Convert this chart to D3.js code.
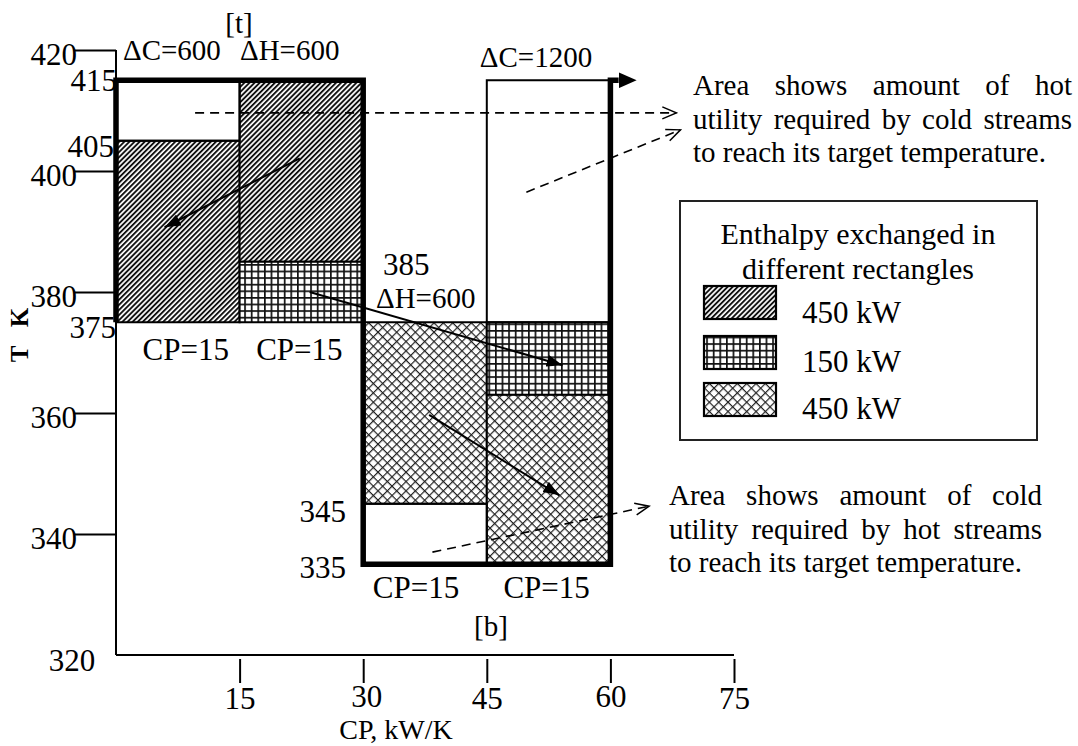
<!DOCTYPE html>
<html>
<head>
<meta charset="utf-8">
<script src="https://cdn.jsdelivr.net/npm/d3@7"></script>
<style>
  html, body { margin: 0; padding: 0; background: #fff; }
  svg { display: block; }
  text { font-family: "Liberation Serif", "Times New Roman", serif; fill: #000; }
</style>
</head>
<body>
<script>
// ---------------- data ----------------
const xTickValues = [15, 30, 45, 60, 75];
const yTickValues = [420, 400, 380, 360, 340];
const yBaseLabel = 320;
const columns = [[0, 15], [15, 30], [30, 45], [45, 60]];
const columnLabels = ["CP=15", "CP=15", "CP=15", "CP=15"];
// hatched blocks (enthalpy exchanged)
const blockCol = [0, 1, 1, 2, 3, 3];
const blockTop = [405, 415, 385, 375, 375, 363];
const blockBottom = [375, 385, 375, 345, 363, 335];
const blockPattern = ["diag", "diag", "grid", "cross", "grid", "cross"];
// empty (utility) blocks
const emptyCol = [0, 3, 2];
const emptyTop = [415, 415, 345];
const emptyBottom = [405, 375, 335];
// legend
const legendTitle = ["Enthalpy exchanged in", "different rectangles"];
const legendLabels = ["450 kW", "150 kW", "450 kW"];
const legendPatterns = ["diag", "grid", "cross"];
// temperature labels on the diagram
const tempLabels = ["415", "405", "375", "385", "345", "335"];
// arrows [cp0, T0, cp1, T1]
const solidArrows = [[22.3, 402.1, 5.9, 390.7], [23.5, 380.0, 54.2, 367.9], [38.0, 359.7, 53.8, 346.4]];
const dashedArrows = [[9.6, 409.6, 68.0, 409.6], [49.8, 396.5, 68.5, 406.8], [38.4, 337.0, 64.7, 344.6]];
const noteHot = ["Area shows amount of hot", "utility required by cold streams", "to reach its target temperature."];
const noteCold = ["Area shows amount of cold", "utility required by hot streams", "to reach its target temperature."];

// ---------------- setup ----------------
const W = 1078, H = 746;
const svg = d3.select("body").append("svg").attr("width", W).attr("height", H);
const x = d3.scaleLinear().domain([0, 75]).range([116, 734]);
const y = d3.scaleLinear().domain([320, 420]).range([655, 50]);
const FS = 29;   // notes / headers
const FL = 31;   // tick & CP labels

const defs = svg.append("defs");
// diagonal
const pd = defs.append("pattern").attr("id", "diag").attr("patternUnits", "userSpaceOnUse")
  .attr("width", 3.6).attr("height", 3.6).attr("patternTransform", "rotate(45)");
pd.append("rect").attr("width", 3.6).attr("height", 3.6).attr("fill", "#fff");
pd.append("rect").attr("width", 1.9).attr("height", 3.6).attr("fill", "#111");
// grid
const pg = defs.append("pattern").attr("id", "grid").attr("patternUnits", "userSpaceOnUse")
  .attr("width", 6.6).attr("height", 6.6);
pg.append("rect").attr("width", 6.6).attr("height", 6.6).attr("fill", "#fff");
pg.append("rect").attr("width", 1.7).attr("height", 6.6).attr("fill", "#111");
pg.append("rect").attr("width", 6.6).attr("height", 1.7).attr("fill", "#111");
// cross
const pc = defs.append("pattern").attr("id", "cross").attr("patternUnits", "userSpaceOnUse")
  .attr("width", 6.6).attr("height", 6.6).attr("patternTransform", "rotate(45)");
pc.append("rect").attr("width", 6.6).attr("height", 6.6).attr("fill", "#fff");
pc.append("rect").attr("width", 1.2).attr("height", 6.6).attr("fill", "#222");
pc.append("rect").attr("width", 6.6).attr("height", 1.2).attr("fill", "#222");

// markers
defs.append("marker").attr("id", "solidHead").attr("markerUnits", "userSpaceOnUse")
  .attr("viewBox", "0 0 16 12").attr("refX", 16).attr("refY", 6)
  .attr("markerWidth", 16).attr("markerHeight", 12).attr("orient", "auto")
  .append("path").attr("d", "M0,0 L16,6 L0,12 Z").attr("fill", "#000");
defs.append("marker").attr("id", "openHead").attr("markerUnits", "userSpaceOnUse")
  .attr("viewBox", "-2 -2 18 16").attr("refX", 14).attr("refY", 6)
  .attr("markerWidth", 18).attr("markerHeight", 16).attr("orient", "auto")
  .append("path").attr("d", "M0,0 L14,6 L0,12").attr("fill", "none").attr("stroke", "#000").attr("stroke-width", 1.5);
defs.append("marker").attr("id", "bigHead").attr("markerUnits", "userSpaceOnUse")
  .attr("viewBox", "0 0 18 16").attr("refX", 0).attr("refY", 8)
  .attr("markerWidth", 18).attr("markerHeight", 16).attr("orient", "auto")
  .append("path").attr("d", "M0,0 L18,8 L0,16 Z").attr("fill", "#000");

// ---------------- axes ----------------
const axisG = svg.append("g");
axisG.append("line").attr("x1", x(0)).attr("x2", x(0)).attr("y1", y(420)).attr("y2", y(320))
  .attr("stroke", "#000").attr("stroke-width", 2);
axisG.append("line").attr("x1", x(0)).attr("x2", x(75)).attr("y1", y(320)).attr("y2", y(320))
  .attr("stroke", "#000").attr("stroke-width", 2);

// y axis with d3 axis
const yAxis = d3.axisLeft(y).tickValues(yTickValues).tickSize(41).tickPadding(0).tickFormat(d3.format("d"));
const yg = svg.append("g").attr("transform", `translate(${x(0)},0)`).call(yAxis);
yg.select(".domain").remove();
yg.selectAll(".tick line").attr("stroke", "#000").attr("stroke-width", 2);
yg.selectAll(".tick text").attr("font-size", FL).attr("font-family", "Liberation Serif")
  .attr("dy", null).attr("y", 14).attr("x", -39).attr("fill", "#000");
svg.append("text").attr("x", 72).attr("y", 671).attr("text-anchor", "middle").attr("font-size", FL).text(yBaseLabel);

// x axis with d3 axis
const xAxis = d3.axisBottom(x).tickValues(xTickValues).tickSize(0).tickPadding(0).tickFormat(d3.format("d"));
const xg = svg.append("g").attr("transform", `translate(0,${y(320)})`).call(xAxis);
xg.select(".domain").remove();
xg.selectAll(".tick line").attr("y1", 4).attr("y2", 28).attr("stroke", "#000").attr("stroke-width", 2);
xg.selectAll(".tick text").attr("font-size", FL).attr("font-family", "Liberation Serif").attr("dy", null)
  .attr("x", d => (d === 30 ? 3 : 0))
  .attr("y", d => (d === 30 || d === 60) ? 52 : 54).attr("fill", "#000");
svg.append("text").attr("x", 396).attr("y", 739).attr("text-anchor", "middle").attr("font-size", 28).text("CP, kW/K");
svg.append("text").attr("transform", "translate(28,335) rotate(-90)").attr("text-anchor", "middle")
  .attr("font-size", 25).attr("font-weight", "bold").style("white-space", "pre").text("T   K");

// ---------------- blocks ----------------
const blocksG = svg.append("g");
blocksG.selectAll("rect.block").data(blockCol.map((c, i) => i)).join("rect").attr("class", "block")
  .attr("x", i => x(columns[blockCol[i]][0])).attr("width", i => x(columns[blockCol[i]][1]) - x(columns[blockCol[i]][0]))
  .attr("y", i => y(blockTop[i])).attr("height", i => y(blockBottom[i]) - y(blockTop[i]))
  .attr("fill", i => `url(#${blockPattern[i]})`).attr("stroke", "#000").attr("stroke-width", 2);
blocksG.selectAll("rect.empty").data(emptyCol.map((c, i) => i)).join("rect").attr("class", "empty")
  .attr("x", i => x(columns[emptyCol[i]][0])).attr("width", i => x(columns[emptyCol[i]][1]) - x(columns[emptyCol[i]][0]))
  .attr("y", i => y(emptyTop[i])).attr("height", i => y(emptyBottom[i]) - y(emptyTop[i]))
  .attr("fill", "none").attr("stroke", "#000").attr("stroke-width", 2);

// thick composite outline
const outline = [[0, 375], [0, 415], [30, 415], [30, 335], [60, 335], [60, 415], [61, 415]];
svg.append("path").attr("d", d3.line().x(d => x(d[0])).y(d => y(d[1]))(outline))
  .attr("fill", "none").attr("stroke", "#000").attr("stroke-width", 5.5).attr("stroke-linejoin", "miter")
  .attr("marker-end", "url(#bigHead)");

// column labels
const colLabelY = [360, 360, 598, 598];
const colLabelDx = [8, -2, -9, -2];
svg.selectAll("text.cp").data(columns).join("text").attr("class", "cp")
  .attr("x", (d, i) => (x(d[0]) + x(d[1])) / 2 + colLabelDx[i]).attr("y", (d, i) => colLabelY[i])
  .attr("text-anchor", "middle").attr("font-size", FL).text((d, i) => columnLabels[i]);

// temperature labels & stream headers
const tlPos = [[117, 91], [114, 157], [116, 338], [383, 275], [346, 522], [346, 578]];
const tlAnchor = ["end", "end", "end", "start", "end", "end"];
svg.selectAll("text.tl").data(tempLabels).join("text").attr("class", "tl")
  .attr("x", (d, i) => tlPos[i][0]).attr("y", (d, i) => tlPos[i][1])
  .attr("text-anchor", (d, i) => tlAnchor[i]).attr("font-size", FL).text(d => d);

const heads = [["[t]", 239, 33, "middle"], ["\u0394C=600", 123, 60, "start"], ["\u0394H=600", 240, 60, "start"],
  ["\u0394C=1200", 536, 67, "middle"], ["\u0394H=600", 376, 308, "start"], ["[b]", 491, 636, "middle"]];
svg.selectAll("text.head").data(heads).join("text").attr("class", "head")
  .attr("x", d => d[1]).attr("y", d => d[2]).attr("text-anchor", d => d[3]).attr("font-size", FS).text(d => d[0]);

// arrows
svg.selectAll("line.sa").data(solidArrows).join("line").attr("class", "sa")
  .attr("x1", d => x(d[0])).attr("y1", d => y(d[1])).attr("x2", d => x(d[2])).attr("y2", d => y(d[3]))
  .attr("stroke", "#000").attr("stroke-width", 2).attr("marker-end", "url(#solidHead)");
svg.selectAll("line.da").data(dashedArrows).join("line").attr("class", "da")
  .attr("x1", d => x(d[0])).attr("y1", d => y(d[1])).attr("x2", d => x(d[2])).attr("y2", d => y(d[3]))
  .attr("stroke", "#000").attr("stroke-width", 1.6).attr("stroke-dasharray", "9,6").attr("marker-end", "url(#openHead)");

// ---------------- legend ----------------
const lg = svg.append("g");
lg.append("rect").attr("x", 680).attr("y", 201).attr("width", 357).attr("height", 239)
  .attr("fill", "#fff").attr("stroke", "#222").attr("stroke-width", 2);
lg.selectAll("text.lt").data(legendTitle).join("text").attr("class", "lt")
  .attr("x", 858).attr("y", (d, i) => 244 + i * 35).attr("text-anchor", "middle").attr("font-size", 30).text(d => d);
lg.selectAll("rect.sw").data(legendPatterns).join("rect").attr("class", "sw")
  .attr("x", 704).attr("y", (d, i) => [286, 336, 383][i]).attr("width", 72).attr("height", 33)
  .attr("fill", d => `url(#${d})`).attr("stroke", "#000").attr("stroke-width", 2.2);
lg.selectAll("text.ll").data(legendLabels).join("text").attr("class", "ll")
  .attr("x", 802).attr("y", (d, i) => [323, 372, 419][i]).attr("font-size", FL).text(d => d);

// ---------------- notes (justified) ----------------
function note(lines, x0, x1, y0, lh) {
  const g = svg.append("g");
  lines.forEach((line, li) => {
    const words = line.split(" ");
    const yy = y0 + li * lh;
    const last = li === lines.length - 1;
    const ts = words.map(w => g.append("text").attr("y", yy).attr("font-size", FS).text(w));
    const widths = ts.map(t => t.node().getComputedTextLength());
    const total = d3.sum(widths);
    const gap = last ? 0.25 * FS : (x1 - x0 - total) / (words.length - 1);
    let cx = x0;
    ts.forEach((t, i) => { t.attr("x", cx); cx += widths[i] + gap; });
  });
}
note(noteHot, 693, 1072, 95, 33.5);
note(noteCold, 669, 1042, 505, 33.5);
</script>
</body>
</html>
